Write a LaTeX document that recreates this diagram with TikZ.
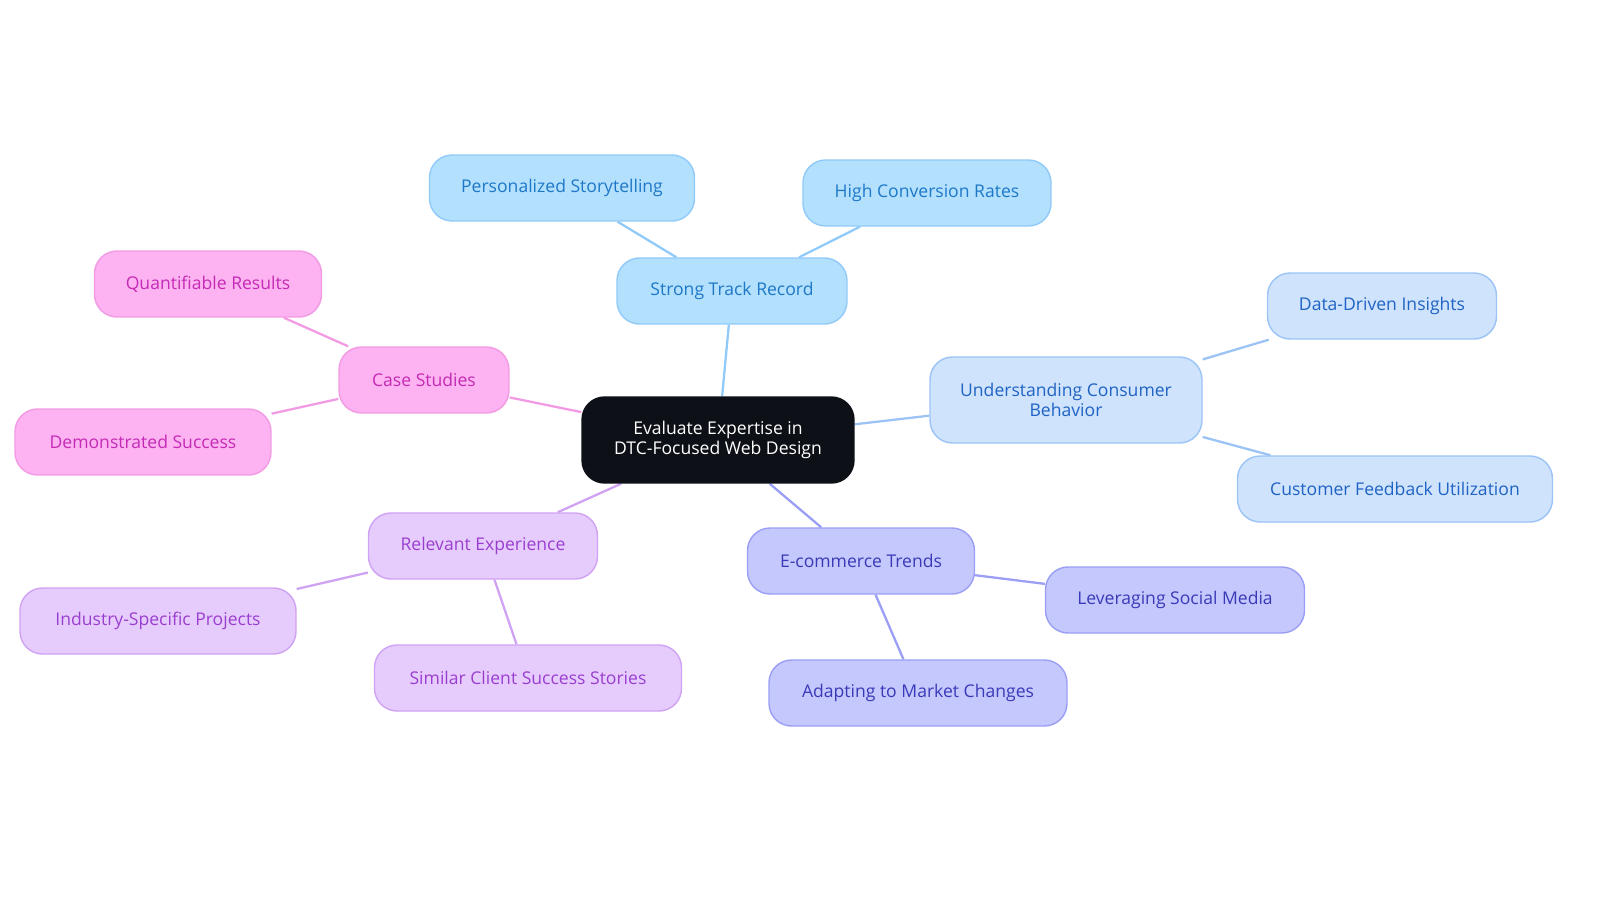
\documentclass[tikz,border=0pt]{standalone}
\usepackage{fontspec}
\setmainfont{Open Sans}
\usetikzlibrary{backgrounds}
\definecolor{bF}{HTML}{B3E0FD}\definecolor{bD}{HTML}{90CAF9}\definecolor{bT}{HTML}{1E78C8}
\definecolor{lF}{HTML}{CFE3FC}\definecolor{lD}{HTML}{9CC3F5}\definecolor{lT}{HTML}{1F63C4}
\definecolor{pF}{HTML}{C5C8FC}\definecolor{pD}{HTML}{9A9EF4}\definecolor{pT}{HTML}{3A3AB8}
\definecolor{vF}{HTML}{E6CCFC}\definecolor{vD}{HTML}{D0A2F4}\definecolor{vT}{HTML}{9A3ED0}
\definecolor{kF}{HTML}{FDB3F1}\definecolor{kD}{HTML}{F29AE4}\definecolor{kT}{HTML}{C42AB5}
\definecolor{cF}{HTML}{0D1117}
\begin{document}
\begin{tikzpicture}[x=0.02cm,y=-0.02cm,
 n/.style={draw, line width=0.8pt, rounded corners=0.45cm, minimum height=1.32cm, font=\fontsize{10}{11}\selectfont, align=center, inner sep=0pt},
 b/.style={n,fill=bF,draw=bD,text=bT}, l/.style={n,fill=lF,draw=lD,text=lT},
 p/.style={n,fill=pF,draw=pD,text=pT}, v/.style={n,fill=vF,draw=vD,text=vT},
 k/.style={n,fill=kF,draw=kD,text=kT},
 e/.style={line width=1.3pt}]
\useasboundingbox (0,0) rectangle (1600,903);
\node[n,fill=cF,draw=cF,text=white,minimum width=5.44cm,minimum height=1.72cm] (c) at (718,440) {Evaluate Expertise in\\DTC-Focused Web Design};
\node[b,minimum width=4.6cm] (st) at (732,291) {Strong Track Record};
\node[b,minimum width=5.3cm] (ps) at (562,188) {Personalized Storytelling};
\node[b,minimum width=4.96cm] (hc) at (927,193) {High Conversion Rates};
\node[l,minimum width=5.44cm,minimum height=1.72cm] (uc) at (1066,400) {Understanding Consumer\\Behavior};
\node[l,minimum width=4.58cm] (dd) at (1382,306) {Data-Driven Insights};
\node[l,minimum width=6.3cm] (cf) at (1395,489) {Customer Feedback Utilization};
\node[p,minimum width=4.54cm] (et) at (861,561) {E-commerce Trends};
\node[p,minimum width=5.18cm] (ls) at (1175,600) {Leveraging Social Media};
\node[p,minimum width=5.96cm] (am) at (918,693) {Adapting to Market Changes};
\node[v,minimum width=4.58cm] (re) at (483,546) {Relevant Experience};
\node[v,minimum width=5.52cm] (is) at (158,621) {Industry-Specific Projects};
\node[v,minimum width=6.14cm] (sc) at (528,678) {Similar Client Success Stories};
\node[k,minimum width=3.4cm] (cs) at (424,380) {Case Studies};
\node[k,minimum width=4.54cm] (qr) at (208,284) {Quantifiable Results};
\node[k,minimum width=5.12cm] (ds) at (143,442) {Demonstrated Success};
\begin{scope}[on background layer]
\draw[e,bD] (c)--(st); \draw[e,bD] (st)--(ps); \draw[e,bD] (st)--(hc);
\draw[e,lD] (c)--(uc); \draw[e,lD] (uc)--(dd); \draw[e,lD] (uc)--(cf);
\draw[e,pD] (c)--(et); \draw[e,pD] (et)--(ls); \draw[e,pD] (et)--(am);
\draw[e,vD] (c)--(re); \draw[e,vD] (re)--(is); \draw[e,vD] (re)--(sc);
\draw[e,kD] (c)--(cs); \draw[e,kD] (cs)--(qr); \draw[e,kD] (cs)--(ds);
\end{scope}
\end{tikzpicture}
\end{document}
